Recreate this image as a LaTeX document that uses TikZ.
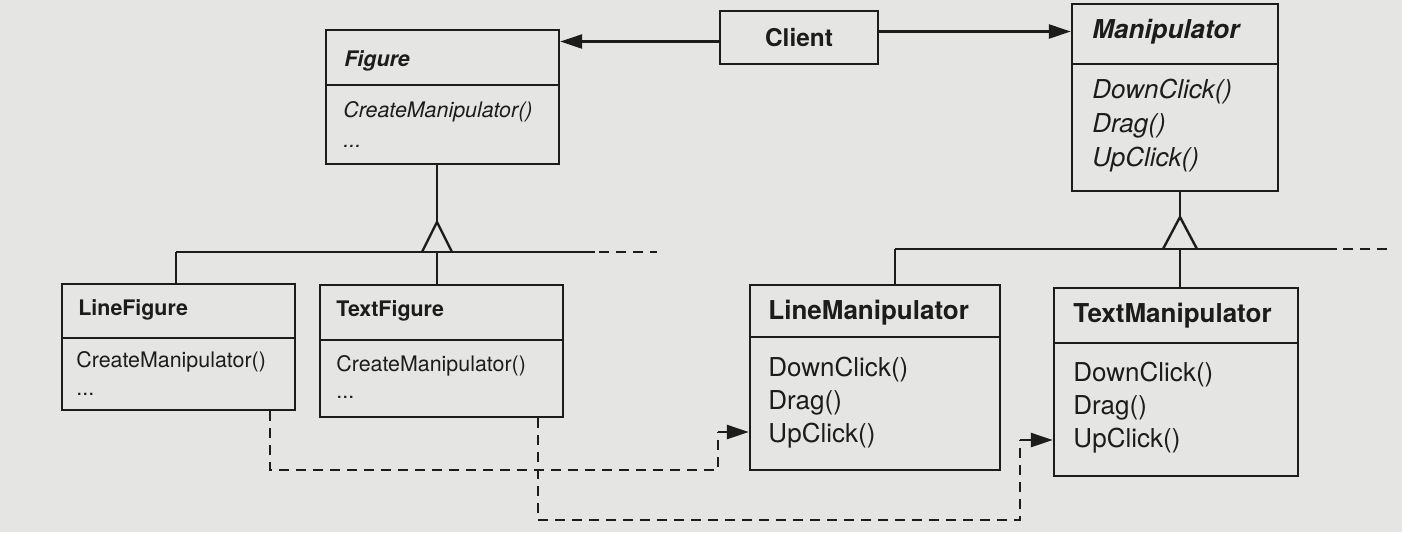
\documentclass[tikz,border=0pt]{standalone}
\usepackage{fontspec}
\setmainfont{TeX Gyre Heros}
\usetikzlibrary{arrows.meta,fit}
\definecolor{paper}{RGB}{229,229,227}
\definecolor{ink}{RGB}{28,28,28}
\tikzset{
  umlbox/.style={draw=ink, line width=1.2pt, inner sep=0pt},
  divider/.style={draw=ink, line width=1.2pt},
  lbl/.style={anchor=west, inner sep=0pt, text=ink},
  smallf/.style={font=\fontsize{10.7}{12}\selectfont},
  midf/.style={font=\fontsize{12.2}{14}\selectfont},
  bigf/.style={font=\fontsize{13}{15}\selectfont},
  link/.style={draw=ink, line width=1.2pt},
  dlink/.style={draw=ink, line width=1.2pt, dash pattern=on 5pt off 3.5pt},
  tip/.style={-{Triangle[length=11pt,width=7pt]}},
}
\begin{document}
\begin{tikzpicture}[x=0.5pt,y=-0.5pt]
\fill[paper] (0,0) rectangle (1402,532);
\useasboundingbox (0,0) rectangle (1402,532);

% ---------- class boxes ----------
\node[umlbox, fit={(326,30) (559,164)}] (fig) {};
\draw[divider] (fig.west |- 0,85) -- (fig.east |- 0,85);
\node[lbl, smallf] (figt) at (344,61) {\textbf{\textit{Figure}}};
\node[lbl, smallf] (figm1) at (343,112) {\textit{CreateManipulator()}};
\node[lbl, smallf] (figm2) at (343,146) {\textit{...}};

\node[umlbox, fit={(720,11) (878,64)}] (cl) {};
\node[midf, text=ink, inner sep=0pt] (clt) at (cl.center) {\textbf{Client}};

\node[umlbox, fit={(1072,4) (1278,191)}] (man) {};
\draw[divider] (man.west |- 0,64) -- (man.east |- 0,64);
\node[lbl, bigf] (mant) at (1092,32) {\textbf{\textit{Manipulator}}};
\node[lbl, bigf] (manm1) at (1092,92) {\textit{DownClick()}};
\node[lbl, bigf] (manm2) at (1092,126) {\textit{Drag()}};
\node[lbl, bigf] (manm3) at (1092,160) {\textit{UpClick()}};

\node[umlbox, fit={(62,284) (295,410)}] (lf) {};
\draw[divider] (lf.west |- 0,338) -- (lf.east |- 0,338);
\node[lbl, smallf] (lft) at (78,310) {\textbf{LineFigure}};
\node[lbl, smallf] (lfm1) at (76,362) {CreateManipulator()};
\node[lbl, smallf] (lfm2) at (76,394) {...};

\node[umlbox, fit={(320,285) (563,417)}] (tf) {};
\draw[divider] (tf.west |- 0,340) -- (tf.east |- 0,340);
\node[lbl, smallf] (tft) at (336,311) {\textbf{TextFigure}};
\node[lbl, smallf] (tfm1) at (336,366) {CreateManipulator()};
\node[lbl, smallf] (tfm2) at (336,397) {...};

\node[umlbox, fit={(750,285) (1000,470)}] (lm) {};
\draw[divider] (lm.west |- 0,337) -- (lm.east |- 0,337);
\node[lbl, bigf] (lmt) at (768,313) {\textbf{LineManipulator}};
\node[lbl, bigf] (lmm1) at (768,370) {DownClick()};
\node[lbl, bigf] (lmm2) at (768,403) {Drag()};
\node[lbl, bigf] (lmm3) at (768,436) {UpClick()};

\node[umlbox, fit={(1054,288) (1298,476)}] (tm) {};
\draw[divider] (tm.west |- 0,343) -- (tm.east |- 0,343);
\node[lbl, bigf] (tmt) at (1073,316) {\textbf{TextManipulator}};
\node[lbl, bigf] (tmm1) at (1073,375) {DownClick()};
\node[lbl, bigf] (tmm2) at (1073,408) {Drag()};
\node[lbl, bigf] (tmm3) at (1073,441) {UpClick()};

% ---------- associations from Client ----------
\coordinate (ca) at ([yshift=-2pt]cl.west);
\draw[link, tip] (ca) -- (fig.east |- ca);
\coordinate (cb) at ([yshift=3pt]cl.east);
\draw[link, tip] (cb) -- (man.west |- cb);

% ---------- Figure hierarchy ----------
\coordinate (fa) at (437,222);
\coordinate (fl) at (176,252);
\coordinate (fr) at (595,252);
\coordinate (fd) at (657,252);
\draw[link] (fig.south -| fa) -- (fa);
\draw[link, line join=miter] (422,252) -- (fa) -- (452,252);
\draw[link] (fl) -- (fr);
\draw[dlink] ([xshift=2pt]fr) -- (fd);
\draw[link] (fl) -- (lf.north -| fl);
\draw[link] (fa |- fl) -- (tf.north -| fa);

% ---------- Manipulator hierarchy ----------
\coordinate (ma) at (1180,217);
\coordinate (ml) at (895,249);
\coordinate (mr) at (1337,249);
\coordinate (md) at (1388,249);
\draw[link] (man.south -| ma) -- (ma);
\draw[link, line join=miter] (1163,249) -- (ma) -- (1197,249);
\draw[link] (ml) -- (mr);
\draw[dlink] ([xshift=3pt]mr) -- (md);
\draw[link] (ml) -- (lm.north -| ml);
\draw[link] (ma |- ml) -- (tm.north -| ma);

% ---------- creation (dashed) ----------
\coordinate (d1a) at (270,470);
\coordinate (d1b) at (718,470);
\coordinate (d1c) at (718,432);
\draw[dlink] (lf.south -| d1a) -- (d1a) -- (d1b) -- (d1c);
\draw[link, tip] (d1c) -- (lm.west |- d1c);

\coordinate (d2a) at (538,520);
\coordinate (d2b) at (1020,520);
\coordinate (d2c) at (1020,440);
\draw[dlink] (tf.south -| d2a) -- (d2a) -- (d2b) -- (d2c);
\draw[link, tip] (d2c) -- (tm.west |- d2c);
\end{tikzpicture}
\end{document}
